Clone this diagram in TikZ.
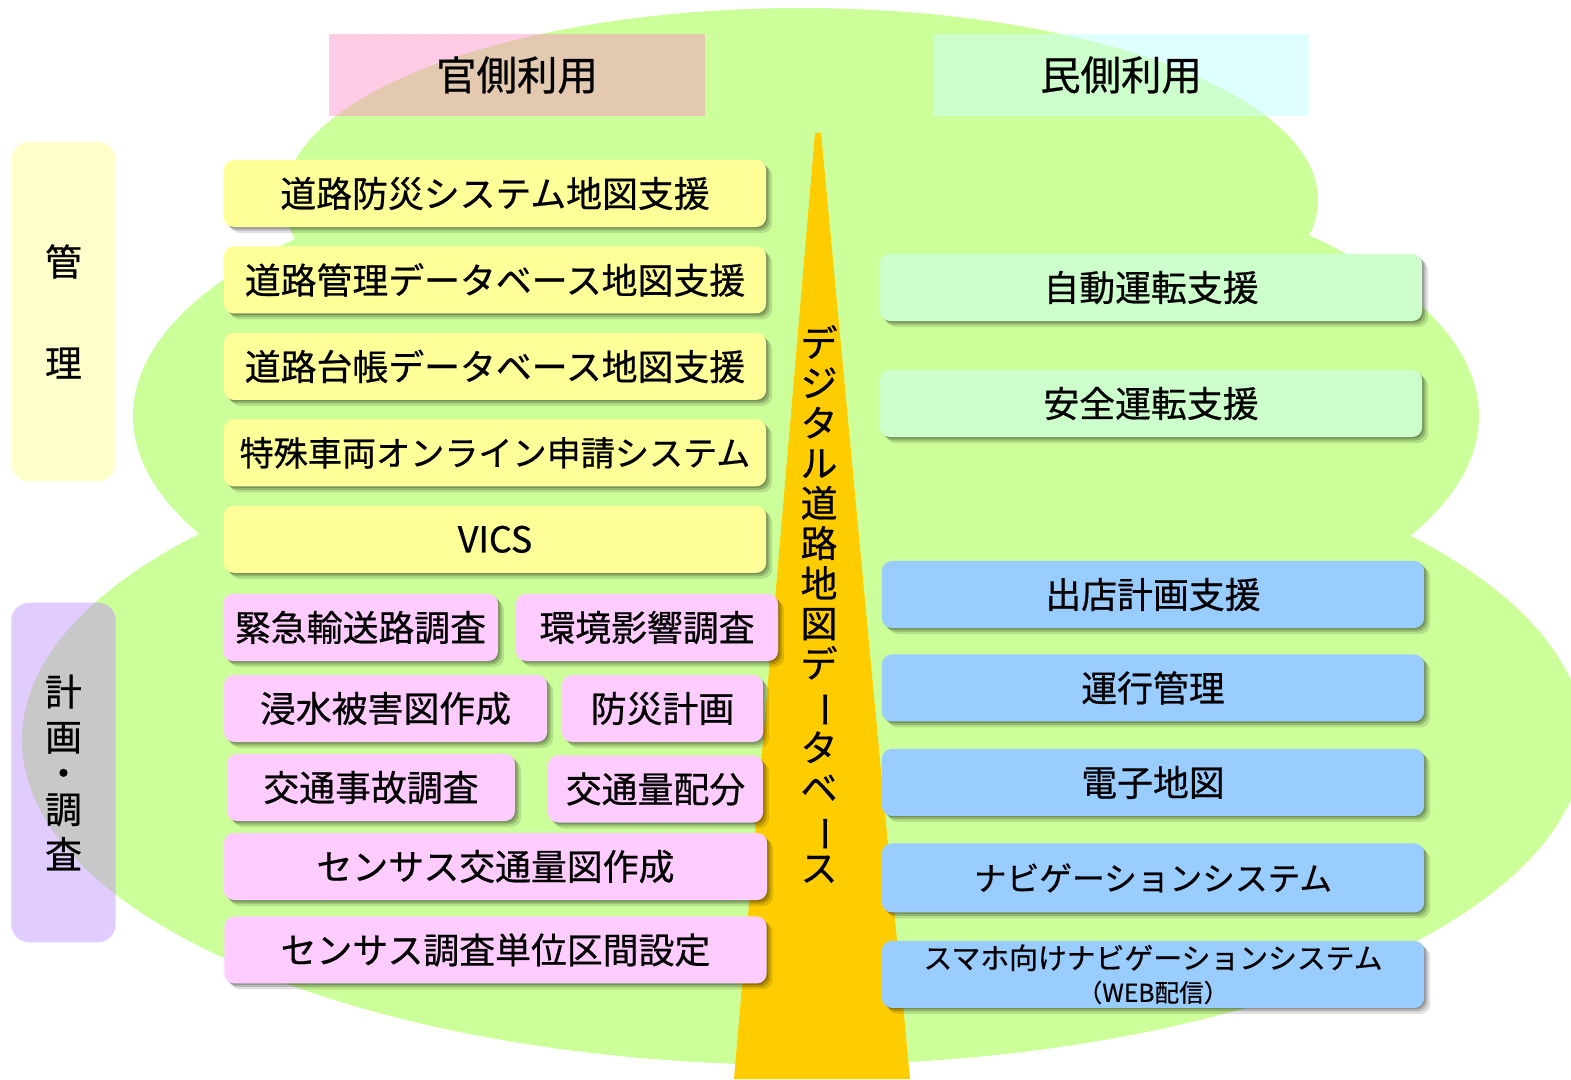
\documentclass[tikz,border=0pt]{standalone}
\usepackage{fontspec}
\setmainfont{Noto Sans CJK JP}[UprightFeatures={FakeBold=0.6}]
\usepackage{graphicx}
\usepackage{tikz}
\usetikzlibrary{positioning}
\usetikzlibrary{shadows}
\usepackage{xcolor}

\definecolor{bggreen}{HTML}{CCFF99}
\definecolor{dborange}{HTML}{FFCC00}
\definecolor{kanyellow}{HTML}{FFFF99}
\definecolor{chosapink}{HTML}{FFCCFF}
\definecolor{mingreen}{HTML}{CCFFCC}
\definecolor{minblue}{HTML}{99CCFF}
\definecolor{headpink}{HTML}{FFCCE5}
\definecolor{headtan}{HTML}{E2C9B0}
\definecolor{headcyan}{HTML}{E0FFFF}
\definecolor{headmint}{HTML}{CCFFCC}
\definecolor{labelyellow}{HTML}{FFFFCC}
\definecolor{labelpurple}{HTML}{E0CCFF}
\definecolor{labelgray}{HTML}{C8C8C8}

\newcommand{\chobar}{\rotatebox[origin=c]{-90}{ー}}
\newcommand{\greenblob}{(801,200) ellipse [x radius=517, y radius=192]
  (806,416) ellipse [x radius=673, y radius=272]
  (803,740) ellipse [x radius=781, y radius=325]}

\pgfdeclarelayer{bg}
\pgfsetlayers{bg,main}

\begin{document}
\begin{tikzpicture}[x=0.01cm, y=-0.01cm,
headnode/.style={rectangle, minimum width=3.74cm, minimum height=0.8cm, inner sep=0pt, font=\fontsize{11.5pt}{13pt}\selectfont},
labelnode/.style={rectangle, minimum width=1.03cm, minimum height=3.38cm, inner sep=0pt, align=center, font=\fontsize{10.5pt}{12.8pt}\selectfont},
kannode/.style={rectangle, rounded corners=0.1cm, fill=kanyellow,
  drop shadow={shadow xshift=0.06cm, shadow yshift=-0.06cm, opacity=0.12, fill=black},
  drop shadow={shadow xshift=0.035cm, shadow yshift=-0.035cm, opacity=0.18, fill=black},
  drop shadow={shadow xshift=0.015cm, shadow yshift=-0.015cm, opacity=0.2, fill=black},
  minimum width=5.42cm, minimum height=0.67cm, inner sep=0pt, font=\fontsize{10.2pt}{12pt}\selectfont},
chosanode/.style={kannode, fill=chosapink},
minnode/.style={kannode, fill=mingreen},
bluenode/.style={kannode, fill=minblue},
dbnode/.style={align=center, inner sep=0pt, font=\fontsize{10.5pt}{11.4pt}\selectfont},
]
\useasboundingbox (0,0) rectangle (1571,1079);

%Nodes
\node[headnode]   (kanhead)  at (517,75)     {官側利用};
\node[headnode]   (minhead)  at (1121,75)    {民側利用};
\node[labelnode]  (kanri)    at (63.5,311.5) {管\\[16pt]理};
\node[labelnode]  (keikaku)  at (63.5,772.5) {計\\画\\[-2.5pt]・\\[-2.5pt]調\\査};

\node[kannode]    (bousai)                             at (495,193.5) {道路防災システム地図支援};
\node[kannode]    (kanridb)  [below=0.18cm of bousai]  {道路管理データベース地図支援};
\node[kannode]    (daicho)   [below=0.18cm of kanridb] {道路台帳データベース地図支援};
\node[kannode, font=\fontsize{9.7pt}{12pt}\selectfont] (tokusha) [below=0.18cm of daicho] {特殊車両オンライン申請システム};
\node[kannode]    (vics)     [below=0.18cm of tokusha] {VICS};

\node[chosanode, minimum width=2.75cm] (kinkyu)  at (360.5,627.5) {緊急輸送路調査};
\node[chosanode, minimum width=2.62cm] (kankyo)  at (647,627.5)   {環境影響調査};
\node[chosanode, minimum width=3.23cm] (shinsui) at (385.5,708.5) {浸水被害図作成};
\node[chosanode, minimum width=2.01cm] (bousaikeikaku) at (662.5,708.5) {防災計画};
\node[chosanode, minimum width=2.88cm] (jiko)    at (371,787.5)   {交通事故調査};
\node[chosanode, minimum width=2.15cm] (haibun)  at (655.5,789)   {交通量配分};
\node[chosanode, minimum width=5.43cm] (census)  at (495.5,866.5) {センサス交通量図作成};
\node[chosanode]                       (kukan)   [below=0.15cm of census] {センサス調査単位区間設定};

\node[minnode]    (jido)     at (1151,287.5) {自動運転支援};
\node[minnode]    (anzen)    at (1151,403.5) {安全運転支援};
\node[bluenode]   (shutten)  at (1153,594.5) {出店計画支援};
\node[bluenode]   (unko)     [below=0.25cm of shutten] {運行管理};
\node[bluenode]   (denshi)   [below=0.26cm of unko]    {電子地図};
\node[bluenode, minimum height=0.69cm, font=\fontsize{9.3pt}{12pt}\selectfont] (navi) [below=0.26cm of denshi] {ナビゲーションシステム};
\node[bluenode, align=center, font=\fontsize{8.2pt}{9.4pt}\selectfont] (sumaho) [below=0.27cm of navi] {スマホ向けナビゲーションシステム\\{\fontsize{7pt}{8pt}\selectfont （WEB配信）}};

\node[dbnode]     (dbtext)   at (819,604) {デ\\ジ\\タ\\ル\\道\\路\\地\\図\\デ\\\chobar\\タ\\ベ\\\chobar\\ス};

%Background
\begin{pgfonlayer}{bg}
\fill[bggreen] \greenblob;
\fill[dborange] (815,133) -- (821,133) -- (910,1079) -- (734,1079) -- cycle;

\fill[headpink] (kanhead.south west) rectangle (kanhead.north east);
\begin{scope}
\clip (kanhead.south west) rectangle (kanhead.north east);
\fill[headtan] \greenblob;
\end{scope}
\fill[headcyan] (minhead.south west) rectangle (minhead.north east);
\begin{scope}
\clip (minhead.south west) rectangle (minhead.north east);
\fill[headmint] \greenblob;
\end{scope}

\fill[labelyellow, rounded corners=0.18cm] (kanri.south west) rectangle (kanri.north east);
\fill[labelpurple, rounded corners=0.18cm] (keikaku.south west) rectangle (keikaku.north east);
\begin{scope}
\clip[rounded corners=0.18cm] (keikaku.south west) rectangle (keikaku.north east);
\fill[labelgray] \greenblob;
\end{scope}
\end{pgfonlayer}
\end{tikzpicture}
\end{document}
